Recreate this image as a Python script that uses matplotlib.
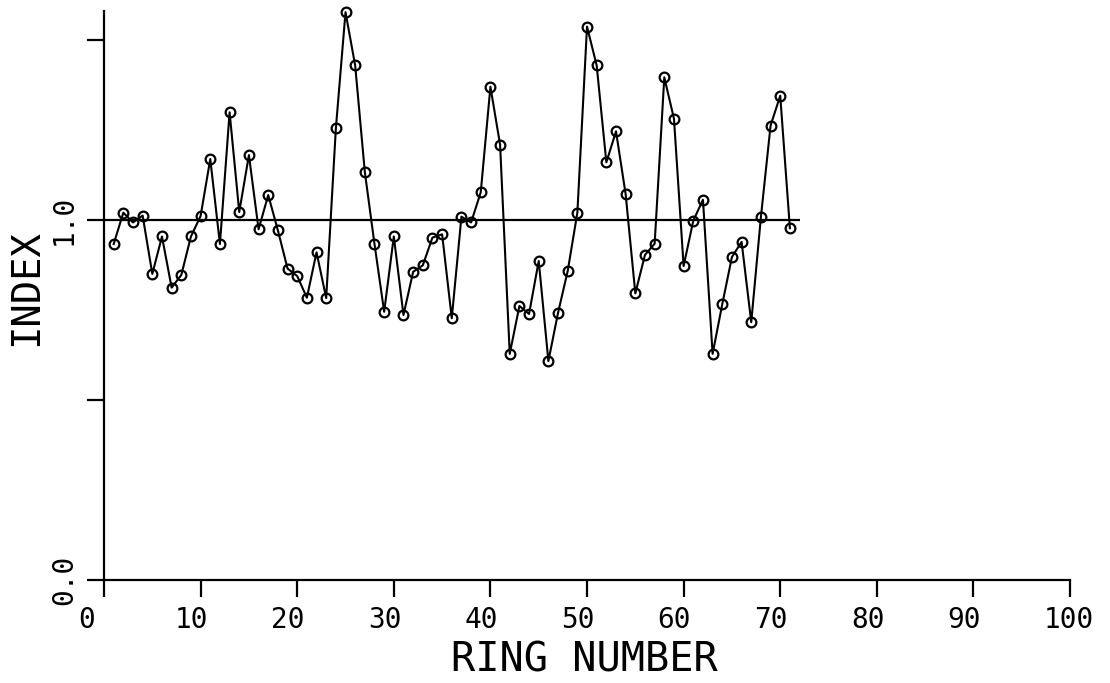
import matplotlib
matplotlib.use("Agg")
import matplotlib.pyplot as plt
import matplotlib.transforms as mtrans

# ring index values, one per ring (rings 1..71)
rings = list(range(1, 72))
index = [0.933, 1.020, 0.993, 1.012, 0.850, 0.954, 0.812, 0.847, 0.954, 1.011,
         1.169, 0.933, 1.299, 1.022, 1.180, 0.974, 1.069, 0.971, 0.865, 0.844,
         0.784, 0.910, 0.783, 1.254, 1.577, 1.429, 1.133, 0.933, 0.745, 0.954,
         0.736, 0.856, 0.874, 0.951, 0.960, 0.727, 1.009, 0.993, 1.077, 1.370,
         1.209, 0.628, 0.761, 0.739, 0.886, 0.608, 0.742, 0.858, 1.020, 1.537,
         1.429, 1.160, 1.246, 1.071, 0.796, 0.903, 0.934, 1.396, 1.281, 0.872,
         0.998, 1.056, 0.628, 0.766, 0.897, 0.939, 0.716, 1.008, 1.262, 1.345,
         0.977]

ref_level = 1.0
ref_end = 72

xticks = list(range(0, 101, 10))
xticklabels = [str(t) for t in xticks]
yticks = [0.0, 0.5, 1.0, 1.5]
yticklabels = ["0.0", "", "1.0", ""]

plt.rcParams['font.family'] = ['DejaVu Sans Mono']

fig = plt.figure(figsize=(11.1, 6.83), dpi=100)
ax = fig.add_axes([0.0937, 0.1508, 0.8703, 0.8335])

ax.hlines(ref_level, 0, ref_end, color="black", lw=1.6)
ax.plot(rings, index, color="black", lw=1.5, marker="o", ms=7,
        mfc="none", mec="black", mew=1.6, clip_on=False)

ax.set_xlim(0, 100)
ax.set_ylim(0, 1.581)
for s in ["top", "right"]:
    ax.spines[s].set_visible(False)
for s in ["left", "bottom"]:
    ax.spines[s].set_linewidth(1.6)

ax.set_xticks(xticks, xticklabels)
ax.set_yticks(yticks, yticklabels)
ax.tick_params(direction="out", length=12.2, width=1.6, pad=6.5,
               labelsize=20, colors="black")

# plotter style: x labels start a little left of their tick
shift = mtrans.ScaledTranslation(-0.26, 0, fig.dpi_scale_trans)
for lab in ax.get_xticklabels():
    lab.set_ha("left")
    lab.set_transform(lab.get_transform() + shift)
for lab in ax.get_yticklabels():
    lab.set_rotation(90)
    lab.set_va("center")

ax.set_xlabel("RING NUMBER", fontsize=29)
ax.set_ylabel("INDEX", fontsize=28)
ax.xaxis.label.set_va("center")
ax.yaxis.label.set_va("center")
ax.xaxis.set_label_coords(0.497, -0.142)
ax.yaxis.set_label_coords(-0.0807, 0.514)

fig.savefig("out.png", dpi=100)
